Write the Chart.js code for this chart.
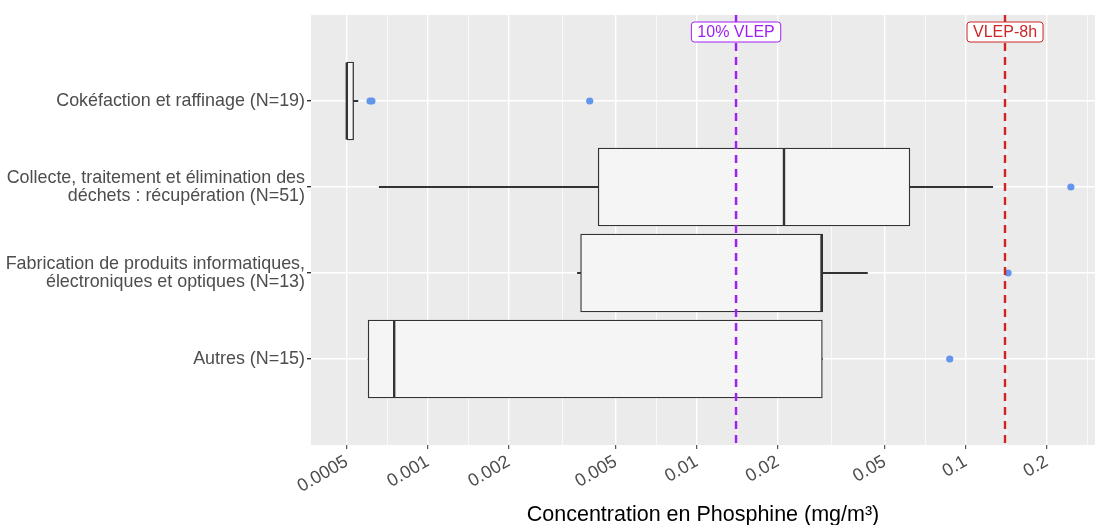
<!DOCTYPE html>
<html>
<head>
<meta charset="utf-8">
<script src="https://cdn.jsdelivr.net/npm/chart.js@4/dist/chart.umd.min.js"></script>
<style>
  body { margin: 0; background: #fff; overflow: hidden; }
  #wrap { width: 1095px; height: 525px; position: relative; }
</style>
</head>
<body>
<div id="wrap"><canvas id="boxChart"></canvas></div>
<script>
// categories (top to bottom)
const categories = [
  'Cokéfaction et raffinage (N=19)',
  ['Collecte, traitement et élimination des', 'déchets : récupération (N=51)'],
  ['Fabrication de produits informatiques,', 'électroniques et optiques (N=13)'],
  'Autres (N=15)'
];

// box plot stats, mg/m3
const lowerWhisker = [0.0005, 0.00066, 0.0036, 0.0006];
const q1 = [0.0005, 0.0043, 0.0037, 0.0006];
const median = [0.0005, 0.0211, 0.0291, 0.00075];
const q3 = [0.00053, 0.062, 0.0294, 0.0293];
const upperWhisker = [0.00055, 0.126, 0.0431, 0.0293];
const outliers = [[0.00061, 0.00062, 0.004], [0.246], [0.1437], [0.0872]];

// reference lines
const refValues = [0.014, 0.14];
const refLabels = ['10% VLEP', 'VLEP-8h'];

// x axis breaks
const xBreaks = [0.0005, 0.001, 0.002, 0.005, 0.01, 0.02, 0.05, 0.1, 0.2];
const xTickLabels = ['0.0005', '0.001', '0.002', '0.005', '0.01', '0.02', '0.05', '0.1', '0.2'];
const xMinorBreaks = [0.000707, 0.001414, 0.003162, 0.007071, 0.014142, 0.031623, 0.070711, 0.141421, 0.282843];

const refColors = ['#A020F0', '#CD2626'];
const FONT = "'Liberation Sans', Arial, sans-serif";
const GREY30 = '#4D4D4D';

// categories sit at 1..4 on a 0..5 axis (one unit of room top and bottom)
const yPos = (i) => i + 1;
const isCat = (v) => v >= 1 && v <= categories.length;

const boxData = categories.map((c, i) => ({ x: [q1[i], q3[i]], y: yPos(i) }));
const lowWhiskData = categories.map((c, i) => ({ x: [lowerWhisker[i], q1[i]], y: yPos(i) }));
const highWhiskData = categories.map((c, i) => ({ x: [q3[i], upperWhisker[i]], y: yPos(i) }));

const outlierPoints = [];
outliers.forEach((vals, i) => {
  vals.forEach(v => outlierPoints.push({ x: v, y: yPos(i) }));
});

// grey panel
const panelBg = {
  id: 'panelBg',
  beforeDraw(chart) {
    const { ctx, chartArea: a } = chart;
    ctx.save();
    ctx.fillStyle = '#EBEBEB';
    ctx.fillRect(a.left, a.top, a.right - a.left, a.bottom - a.top);
    ctx.restore();
  }
};

// median lines, drawn right after the boxes
const medians = {
  id: 'medians',
  afterDatasetDraw(chart, args) {
    if (args.index !== 0) return;
    const { ctx, scales } = chart;
    ctx.save();
    ctx.strokeStyle = '#333333';
    ctx.lineWidth = 2.4;
    median.forEach((m, i) => {
      const x = scales.x.getPixelForValue(m);
      const y = scales.y.getPixelForValue(yPos(i));
      ctx.beginPath();
      ctx.moveTo(x, y - 38.5);
      ctx.lineTo(x, y + 38.5);
      ctx.stroke();
    });
    ctx.restore();
  }
};

// labels on the reference lines
const refTags = {
  id: 'refTags',
  afterDraw(chart) {
    const { ctx, scales } = chart;
    ctx.save();
    ctx.font = '16px ' + FONT;
    ctx.textAlign = 'center';
    ctx.textBaseline = 'middle';
    refValues.forEach((v, i) => {
      const x = scales.x.getPixelForValue(v);
      const w = ctx.measureText(refLabels[i]).width + 12;
      const top = 22, h = 20;
      ctx.beginPath();
      ctx.roundRect(x - w / 2, top, w, h, 3);
      ctx.fillStyle = '#fff';
      ctx.fill();
      ctx.lineWidth = 1;
      ctx.strokeStyle = refColors[i];
      ctx.stroke();
      ctx.fillStyle = refColors[i];
      ctx.fillText(refLabels[i], x, top + h / 2 + 1);
    });
    ctx.restore();
  }
};

const ctx = document.getElementById('boxChart');

new Chart(ctx, {
  type: 'bar',
  data: {
    datasets: [
      {
        label: 'box',
        data: boxData,
        backgroundColor: '#F5F5F5',
        borderColor: '#333333',
        borderWidth: 1.3,
        borderSkipped: false,
        barThickness: 78,
        grouped: false,
        order: 2
      },
      {
        label: 'whisker low',
        data: lowWhiskData,
        backgroundColor: '#333333',
        borderWidth: 0,
        barThickness: 1.3,
        grouped: false,
        order: 3
      },
      {
        label: 'whisker high',
        data: highWhiskData,
        backgroundColor: '#333333',
        borderWidth: 0,
        barThickness: 1.3,
        grouped: false,
        order: 3
      },
      {
        type: 'scatter',
        label: 'outliers',
        data: outlierPoints,
        backgroundColor: '#6495ED',
        borderWidth: 0,
        pointRadius: 3.6,
        order: 1
      },
      {
        type: 'line',
        label: refLabels[0],
        data: [{ x: refValues[0], y: 0 }, { x: refValues[0], y: 5 }],
        borderColor: refColors[0],
        borderWidth: 2.5,
        borderDash: [8, 6],
        pointRadius: 0,
        order: 0
      },
      {
        type: 'line',
        label: refLabels[1],
        data: [{ x: refValues[1], y: 0 }, { x: refValues[1], y: 5 }],
        borderColor: refColors[1],
        borderWidth: 2.5,
        borderDash: [8, 6],
        pointRadius: 0,
        order: 0
      }
    ]
  },
  options: {
    indexAxis: 'y',
    responsive: true,
    maintainAspectRatio: false,
    animation: false,
    layout: { autoPadding: false, padding: { top: 15, right: 0, bottom: 0, left: 0 } },
    plugins: {
      legend: { display: false },
      tooltip: { enabled: false }
    },
    scales: {
      x: {
        type: 'logarithmic',
        position: 'bottom',
        min: 0.000368,
        max: 0.3024,
        afterBuildTicks: (scale) => {
          const t = xBreaks.map(v => ({ value: v, minor: false }))
            .concat(xMinorBreaks.map(v => ({ value: v, minor: true })));
          t.sort((a, b) => a.value - b.value);
          scale.ticks = t;
        },
        afterFit: (scale) => {
          scale.height = 80;
          scale.paddingLeft = 0;
          scale.paddingRight = 0;
        },
        border: { display: false },
        grid: {
          color: '#FFFFFF',
          lineWidth: (c) => (c.tick && c.tick.minor ? 0.7 : 1.4),
          drawTicks: true,
          tickLength: 4,
          tickColor: (c) => (c.tick && c.tick.minor ? 'rgba(0,0,0,0)' : '#333333'),
          tickWidth: 1
        },
        ticks: {
          autoSkip: false,
          minRotation: 30,
          maxRotation: 30,
          padding: 2,
          color: GREY30,
          font: { family: FONT, size: 18 },
          callback: function (value) {
            const k = xBreaks.indexOf(value);
            return k >= 0 ? xTickLabels[k] : '';
          }
        },
        title: {
          display: true,
          text: 'Concentration en Phosphine (mg/m³)',
          color: '#000000',
          font: { family: FONT, size: 21.5, lineHeight: 1 },
          padding: { top: 0, bottom: -1 }
        }
      },
      y: {
        type: 'linear',
        position: 'left',
        reverse: true,
        offset: false,
        min: 0,
        max: categories.length + 1,
        afterBuildTicks: (scale) => {
          scale.ticks = categories.map((c, i) => ({ value: yPos(i) }));
        },
        afterFit: (scale) => { scale.width = 311; },
        border: { display: false },
        grid: {
          offset: false,
          color: '#FFFFFF',
          lineWidth: 1.4,
          drawTicks: true,
          tickLength: 4,
          tickColor: '#333333'
        },
        ticks: {
          autoSkip: false,
          padding: 2,
          color: GREY30,
          font: { family: FONT, size: 17.9, lineHeight: 1.05 },
          callback: (v) => (isCat(v) ? categories[v - 1] : '')
        }
      }
    }
  },
  plugins: [panelBg, medians, refTags]
});
</script>
</body>
</html>
